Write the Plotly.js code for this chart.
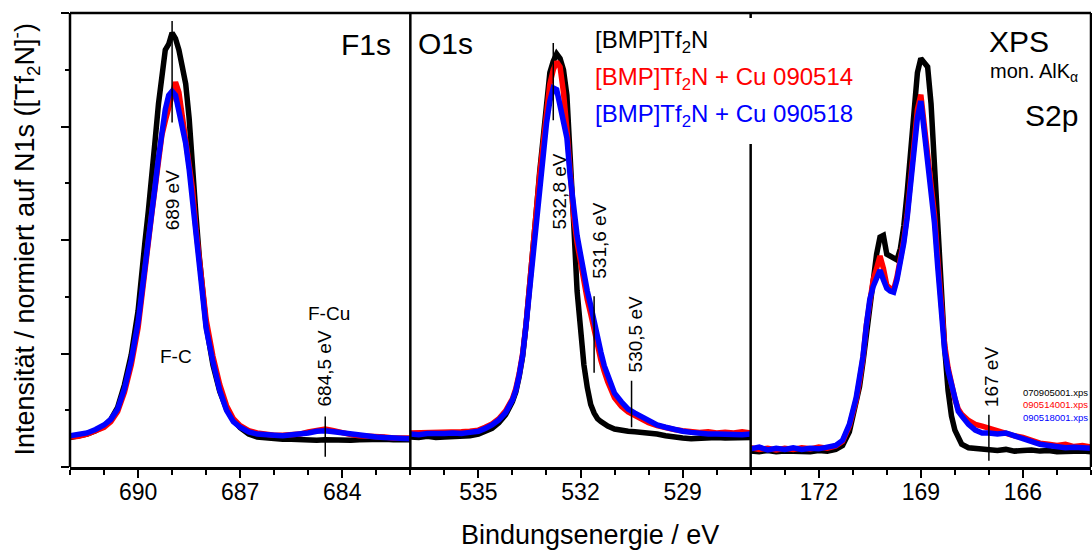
<!DOCTYPE html>
<html>
<head>
<meta charset="utf-8">
<script src="https://cdn.plot.ly/plotly-3.0.1.min.js"></script>
<style>html,body{margin:0;padding:0;background:#fff;}#chart{width:1092px;height:554px;}</style>
</head>
<body>
<div id="chart"></div>
<script>
// ---------- F1s panel ----------
const f1sEnergy = [692,691.75,691.5,691.25,691,690.8,690.6,690.4,690.2,690.0,689.9,689.8,689.7,689.6,689.5,689.4,689.3,689.2,689.1,689.0,688.9,688.8,688.7,688.6,688.5,688.4,688.3,688.2,688.1,688.0,687.8,687.6,687.4,687.2,687.0,686.75,686.5,686.25,686,685.75,685.5,685.25,685,684.75,684.5,684.25,684,683.75,683.5,683.25,683,682.75,682.5,682.25,682];
const f1sBMP = [0.52,0.55,0.58,0.64,0.72,0.84,1.05,1.45,1.98,2.75,3.25,3.95,4.5,5.05,5.75,6.4,6.95,7.35,7.45,7.65,7.55,7.35,7.05,6.75,6.15,5.2,4.45,3.7,3.0,2.5,1.8,1.33,1.02,0.83,0.69,0.58,0.53,0.51,0.50,0.49,0.49,0.48,0.47,0.47,0.48,0.47,0.48,0.47,0.48,0.49,0.48,0.49,0.48,0.49,0.48];
const f1sCu514 = [0.53,0.54,0.58,0.63,0.70,0.80,0.98,1.32,1.80,2.45,2.9,3.45,3.95,4.45,4.9,5.4,5.85,6.1,6.3,6.55,6.78,6.6,6.2,5.85,5.4,4.9,4.2,3.6,3.1,2.6,1.95,1.45,1.08,0.85,0.73,0.64,0.60,0.57,0.56,0.56,0.57,0.58,0.62,0.65,0.67,0.64,0.60,0.57,0.55,0.55,0.53,0.53,0.51,0.51,0.51];
const f1sCu518 = [0.55,0.57,0.60,0.66,0.74,0.84,1.02,1.38,1.88,2.55,3.0,3.55,4.05,4.5,4.95,5.45,5.95,6.3,6.55,6.62,6.55,6.3,5.95,5.7,5.25,4.7,4.0,3.4,2.9,2.45,1.85,1.35,1.0,0.8,0.7,0.62,0.58,0.56,0.56,0.55,0.56,0.57,0.60,0.63,0.64,0.62,0.60,0.57,0.55,0.54,0.53,0.52,0.51,0.52,0.50];

// ---------- O1s panel ----------
const o1sEnergy = [537,536.75,536.5,536.25,536,535.75,535.5,535.25,535,534.8,534.6,534.4,534.2,534.0,533.9,533.8,533.7,533.6,533.5,533.4,533.3,533.2,533.1,533.0,532.9,532.8,532.7,532.6,532.5,532.4,532.3,532.2,532.1,532.0,531.9,531.8,531.7,531.6,531.5,531.4,531.3,531.2,531.0,530.8,530.6,530.4,530.2,530.0,529.75,529.5,529.25,529,528.75,528.5,528.25,528,527.75,527.5,527.25,527];
const o1sBMP = [0.53,0.52,0.54,0.52,0.53,0.54,0.53,0.55,0.58,0.62,0.68,0.78,0.92,1.15,1.32,1.6,1.95,2.5,3.1,3.7,4.5,5.2,5.8,6.4,6.95,7.15,7.28,7.2,7.0,6.55,5.55,4.3,3.1,2.35,1.8,1.4,1.1,0.95,0.85,0.80,0.76,0.72,0.67,0.64,0.63,0.62,0.61,0.60,0.58,0.55,0.52,0.51,0.50,0.51,0.50,0.52,0.51,0.52,0.53,0.52];
const o1sCu514 = [0.60,0.60,0.62,0.60,0.61,0.60,0.62,0.63,0.65,0.70,0.76,0.85,0.99,1.2,1.38,1.65,2.0,2.52,3.12,3.7,4.5,5.15,5.75,6.3,6.75,7.0,7.14,7.05,6.6,5.95,5.15,4.4,3.95,3.6,3.22,2.95,2.7,2.4,2.12,1.88,1.68,1.5,1.22,1.07,0.97,0.9,0.84,0.78,0.73,0.69,0.66,0.64,0.62,0.61,0.62,0.60,0.61,0.60,0.62,0.60];
const o1sCu518 = [0.58,0.57,0.59,0.58,0.59,0.60,0.59,0.61,0.63,0.68,0.74,0.83,0.96,1.18,1.35,1.62,1.97,2.5,3.1,3.65,4.4,5.0,5.55,6.05,6.45,6.68,6.65,6.4,6.15,5.8,5.1,4.5,4.08,3.75,3.35,3.1,2.85,2.55,2.27,2.02,1.78,1.6,1.3,1.15,1.02,0.95,0.88,0.80,0.74,0.70,0.66,0.63,0.61,0.59,0.58,0.58,0.57,0.58,0.57,0.58];

// ---------- S2p panel ----------
const s2pEnergy = [174,173.75,173.5,173.25,173,172.75,172.5,172.25,172,171.75,171.5,171.3,171.1,170.9,170.8,170.7,170.6,170.5,170.4,170.3,170.2,170.1,170.0,169.9,169.8,169.7,169.6,169.5,169.4,169.3,169.2,169.1,169.0,168.9,168.8,168.7,168.6,168.5,168.4,168.3,168.2,168.1,168.0,167.9,167.8,167.6,167.4,167.2,167.0,166.75,166.5,166.25,166,165.75,165.5,165.25,165,164.75,164.5,164.25,164];
const s2pBMP = [0.28,0.27,0.29,0.27,0.28,0.27,0.28,0.27,0.29,0.28,0.31,0.38,0.62,1.1,1.42,1.85,2.35,2.7,3.15,3.75,4.05,4.08,3.75,3.72,3.7,3.65,3.85,4.25,4.85,5.55,6.3,6.95,7.2,7.12,7.05,6.4,5.25,4.1,2.95,2.1,1.35,0.9,0.65,0.5,0.4,0.34,0.33,0.31,0.32,0.29,0.31,0.28,0.29,0.30,0.28,0.29,0.27,0.28,0.29,0.28,0.27];
const s2pCu514 = [0.34,0.31,0.33,0.30,0.33,0.31,0.34,0.32,0.35,0.33,0.37,0.45,0.72,1.18,1.52,1.92,2.5,3.0,3.3,3.5,3.72,3.5,3.2,3.15,3.12,3.35,3.65,4.0,4.45,5.1,5.75,6.3,6.56,6.05,5.4,4.95,4.45,3.65,2.85,2.15,1.75,1.45,1.2,1.02,0.93,0.82,0.75,0.72,0.68,0.63,0.60,0.55,0.52,0.47,0.42,0.40,0.38,0.40,0.36,0.38,0.35];
const s2pCu518 = [0.32,0.35,0.30,0.33,0.31,0.34,0.31,0.33,0.32,0.34,0.38,0.47,0.75,1.22,1.55,1.95,2.5,2.95,3.18,3.3,3.47,3.3,3.15,3.1,3.08,3.3,3.6,3.95,4.4,5.0,5.65,6.15,6.45,5.9,5.25,4.85,4.3,3.5,2.7,2.05,1.7,1.45,1.15,0.98,0.9,0.75,0.65,0.6,0.6,0.58,0.6,0.55,0.5,0.44,0.4,0.38,0.36,0.34,0.35,0.33,0.33];

const seriesNames = ['[BMP]Tf<sub>2</sub>N','[BMP]Tf<sub>2</sub>N + Cu 090514','[BMP]Tf<sub>2</sub>N + Cu 090518'];
const fileNames = ['070905001.xps','090514001.xps','090518001.xps'];
const colors = ['#000000','#ff0000','#0000ff'];

const panels = [
  {x: f1sEnergy, ys: [f1sBMP, f1sCu514, f1sCu518], xa: 'x'},
  {x: o1sEnergy, ys: [o1sBMP, o1sCu514, o1sCu518], xa: 'x2'},
  {x: s2pEnergy, ys: [s2pBMP, s2pCu514, s2pCu518], xa: 'x3'}
];

const traces = [];
panels.forEach(p => {
  p.ys.forEach((y, i) => {
    traces.push({x: p.x, y: y, xaxis: p.xa, yaxis: 'y', type: 'scatter', mode: 'lines',
      line: {color: colors[i], width: 5.5}, showlegend: false, hoverinfo: 'skip'});
  });
});

const FONT = 'Arial, "Liberation Sans", sans-serif';
function xax(domain, range, tick0) {
  return {domain: domain, range: range, anchor: 'y', tickmode: 'linear', tick0: tick0, dtick: 3,
    ticks: 'outside', ticklen: 8, tickwidth: 2, tickcolor: '#000', ticklabelstandoff: -5,
    minor: {tickmode: 'linear', tick0: tick0, dtick: 1, ticks: 'outside', ticklen: 5, tickwidth: 2, tickcolor: '#000'},
    showline: true, linewidth: 2.5, linecolor: '#000', showgrid: false, zeroline: false,
    tickfont: {family: FONT, size: 23, color: '#000'}};
}

const annotations = [];
function ann(o) { annotations.push(Object.assign({showarrow: false, xanchor: 'center', yanchor: 'middle', font: {family: FONT, size: 19, color: '#000'}}, o)); }
// panel labels
ann({xref: 'paper', yref: 'paper', x: 0.2899, y: 0.9317, text: 'F1s', font: {family: FONT, size: 30, color: '#000'}});
ann({xref: 'paper', yref: 'paper', x: 0.3673, y: 0.9339, text: 'O1s', font: {family: FONT, size: 30, color: '#000'}});
ann({xref: 'paper', yref: 'paper', x: 0.9295, y: 0.9383, text: 'XPS', font: {family: FONT, size: 30, color: '#000'}});
ann({xref: 'paper', yref: 'paper', x: 0.8991, y: 0.870, xanchor: 'left', text: 'mon. AlK<sub>α</sub>', font: {family: FONT, size: 20, color: '#000'}});
ann({xref: 'paper', yref: 'paper', x: 0.9618, y: 0.7753, text: 'S2p', font: {family: FONT, size: 30, color: '#000'}});
// legend text
const legY = [0.9383, 0.8568, 0.7753];
seriesNames.forEach((t, i) => ann({xref: 'paper', yref: 'paper', x: 0.5122, y: legY[i], xanchor: 'left', text: t, font: {family: FONT, size: 24, color: colors[i]}}));
const fileY = [0.163, 0.1366, 0.110];
fileNames.forEach((t, i) => ann({xref: 'paper', yref: 'paper', x: 0.9315, y: fileY[i], xanchor: 'left', text: t, font: {family: FONT, size: 9.5, color: colors[i]}}));
// peak labels
ann({xref: 'x', yref: 'y', x: 689.0, y: 4.70, text: '689 eV', textangle: -90});
ann({xref: 'x', yref: 'y', x: 688.88, y: 1.94, text: 'F-C'});
ann({xref: 'x', yref: 'y', x: 684.38, y: 2.71, text: 'F-Cu'});
ann({xref: 'x', yref: 'y', x: 684.53, y: 1.74, text: '684,5 eV', textangle: -90});
ann({xref: 'x2', yref: 'y', x: 532.62, y: 4.86, text: '532,8 eV', textangle: -90});
ann({xref: 'x2', yref: 'y', x: 531.44, y: 3.98, text: '531,6 eV', textangle: -90});
ann({xref: 'x2', yref: 'y', x: 530.38, y: 2.33, text: '530,5 eV', textangle: -90});
ann({xref: 'x3', yref: 'y', x: 166.94, y: 1.60, text: '167 eV', textangle: -90});
// axis titles
ann({xref: 'paper', yref: 'paper', x: -0.0445, y: 0.50, text: 'Intensität / normiert auf N1s ([Tf<sub>2</sub>N]<sup>-</sup>)', textangle: -90, font: {family: FONT, size: 27, color: '#000'}});
ann({xref: 'paper', yref: 'paper', x: 0.509, y: -0.150, text: 'Bindungsenergie / eV', font: {family: FONT, size: 27, color: '#000'}});

const shapes = [];
function ln(xref, x0, y0, x1, y1, w) { shapes.push({type: 'line', xref: xref, yref: xref === 'paper' ? 'paper' : 'y', x0: x0, y0: y0, x1: x1, y1: y1, line: {color: '#000', width: w}}); }
// frame
ln('paper', 0, 1, 1, 1, 2.5);
ln('paper', 0, 0, 0, 1, 2.5);
ln('paper', 1, 0, 1, 1, 2.5);
ln('paper', 1/3, 0, 1/3, 1, 2.5);
ln('paper', 2/3, 0, 2/3, 0.7115, 2.5);
ln('paper', 2/3, 1, 2/3, 0.989, 2.5);
// peak marker lines
ln('x', 689.0, 7.86, 689.0, 6.07, 1.5);
ln('x', 684.5, 0.89, 684.5, 0.18, 1.5);
ln('x2', 532.8, 7.47, 532.8, 6.11, 1.5);
ln('x2', 531.6, 3.01, 531.6, 1.66, 1.5);
ln('x2', 530.5, 1.52, 530.5, 0.70, 1.5);
ln('x3', 167.0, 0.92, 167.0, 0.11, 1.5);

const layout = {
  width: 1092, height: 554,
  margin: {l: 70, r: 1, t: 13, b: 87},
  paper_bgcolor: '#fff', plot_bgcolor: '#fff',
  font: {family: FONT, color: '#000'},
  showlegend: false,
  xaxis: xax([0, 1/3], [692, 682], 690),
  xaxis2: xax([1/3, 2/3], [537, 527], 535),
  xaxis3: xax([2/3, 1], [174, 164], 172),
  yaxis: {range: [0, 8], tickmode: 'linear', tick0: 0, dtick: 2, ticks: 'outside', ticklen: 8, tickwidth: 2, tickcolor: '#000',
    minor: {tickmode: 'linear', tick0: 0, dtick: 1, ticks: 'outside', ticklen: 4, tickwidth: 2, tickcolor: '#000'},
    showticklabels: false, showline: false, showgrid: false, zeroline: false},
  annotations: annotations,
  shapes: shapes
};

Plotly.newPlot('chart', traces, layout, {staticPlot: true, displayModeBar: false});
</script>
</body>
</html>
